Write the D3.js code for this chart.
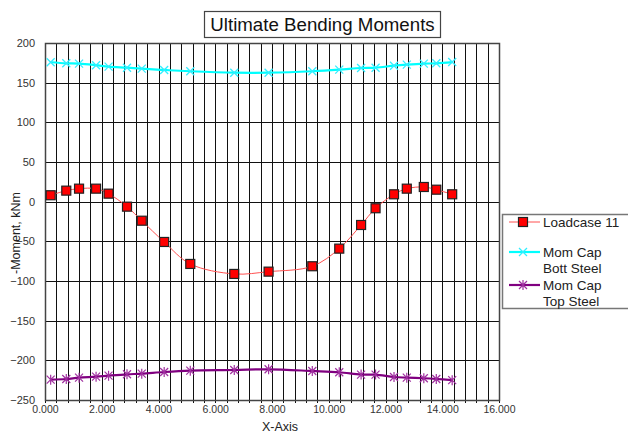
<!DOCTYPE html>
<html>
<head>
<meta charset="utf-8">
<script src="https://cdn.jsdelivr.net/npm/d3@7"></script>
<style>
  html, body { margin: 0; padding: 0; background: #fff; }
  svg { display: block; font-family: "Liberation Sans", Arial, sans-serif; }
</style>
</head>
<body>
<svg id="chart" width="628" height="435"></svg>
<script>
// ---- data ----
const xPositions = [0.20, 0.75, 1.20, 1.80, 2.24, 2.89, 3.41, 4.20, 5.12, 6.67, 7.88, 9.42, 10.37, 11.14, 11.65, 12.30, 12.75, 13.35, 13.79, 14.35];
const loadcase11 = [8.1, 13.9, 16.4, 16.4, 10.1, -6.3, -24.0, -50.8, -78.5, -91.1, -88.2, -81.4, -59.2, -29.4, -8.3, 9.3, 16.4, 18.5, 15.1, 9.3];
const momCapBott = [175.7, 174.4, 174.0, 172.0, 170.2, 168.9, 167.7, 166.0, 164.4, 162.6, 162.6, 164.4, 166.4, 168.5, 168.9, 171.4, 172.7, 174.0, 174.4, 176.0];
const momCapTop = [-224.4, -223.5, -221.8, -220.6, -219.3, -217.6, -216.8, -214.7, -213.0, -212.2, -211.3, -213.4, -215.0, -218.0, -218.0, -221.0, -221.8, -222.6, -223.5, -225.0];
const seriesNames = ["Loadcase 11", "Mom Cap\nBott Steel", "Mom Cap\nTop Steel"];
const xTickValues = [0, 2, 4, 6, 8, 10, 12, 14, 16];
const yTickValues = [200, 150, 100, 50, 0, -50, -100, -150, -200, -250];
const titleText = "Ultimate Bending Moments";
const xLabel = "X-Axis";
const yLabel = "-Moment, kNm";

// ---- layout ----
const svg = d3.select("#chart");
const plot = { left: 45, right: 499, top: 43, bottom: 400 };
const x = d3.scaleLinear().domain([0, 16]).range([plot.left, plot.right]);
const y = d3.scaleLinear().domain([-250, 200]).range([plot.bottom, plot.top]);

// gridlines (minor vertical every 0.4)
const xGrid = d3.range(0, 16.0001, 0.4);
const grid = svg.append("g");
grid.selectAll("line.vg").data(xGrid).join("line")
  .attr("x1", d => Math.round(x(d)) + 0.5).attr("x2", d => Math.round(x(d)) + 0.5)
  .attr("y1", plot.top).attr("y2", plot.bottom + 3)
  .attr("stroke", "#111").attr("stroke-width", 1);
grid.selectAll("line.hg").data(yTickValues).join("line")
  .attr("x1", plot.left).attr("x2", plot.right)
  .attr("y1", d => Math.round(y(d)) + 0.5).attr("y2", d => Math.round(y(d)) + 0.5)
  .attr("stroke", "#111").attr("stroke-width", 1);

// plot border
svg.append("rect")
  .attr("x", plot.left + 0.5).attr("y", plot.top + 0.5)
  .attr("width", plot.right - plot.left).attr("height", plot.bottom - plot.top)
  .attr("fill", "none").attr("stroke", "#444").attr("stroke-width", 1.5);

// axes (labels only, via d3 axes)
const xAxis = d3.axisBottom(x).tickValues(xTickValues).tickFormat(d3.format(".3f")).tickSize(0).tickPadding(6);
const gx = svg.append("g").attr("transform", `translate(0,${plot.bottom})`).call(xAxis);
gx.select(".domain").remove();
gx.selectAll("text").attr("font-size", 10.5).attr("fill", "#333").attr("font-family", "Liberation Sans, Arial, sans-serif");

const yAxis = d3.axisLeft(y).tickValues(yTickValues).tickFormat(d3.format("d")).tickSize(0).tickPadding(10);
const gy = svg.append("g").attr("transform", `translate(${plot.left},0)`).call(yAxis);
gy.select(".domain").remove();
gy.selectAll("text").attr("font-size", 11).attr("fill", "#333").attr("font-family", "Liberation Sans, Arial, sans-serif");

// axis titles
svg.append("text").attr("x", 280).attr("y", 431).attr("text-anchor", "middle")
  .attr("font-size", 12.5).attr("fill", "#222").text(xLabel);
svg.append("text").attr("transform", "translate(20,233) rotate(-90)").attr("text-anchor", "middle")
  .attr("font-size", 12.5).attr("fill", "#222").text(yLabel);

// title
const titleBox = svg.append("g");
titleBox.append("rect").attr("x", 204.5).attr("y", 11.5).attr("width", 236).attr("height", 26)
  .attr("fill", "#fff").attr("stroke", "#444").attr("stroke-width", 1.2);
titleBox.append("text").attr("x", 322.5).attr("y", 31).attr("text-anchor", "middle")
  .attr("font-size", 18.7).attr("fill", "#111").text(titleText);

// series
const curve = d3.curveCatmullRom.alpha(0.5);
const mkLine = vals => d3.line().curve(curve).x((d, i) => x(xPositions[i])).y(d => y(d))(vals);

const series = [
  { vals: loadcase11, color: "#ff5050", width: 1, marker: "square" },
  { vals: momCapBott, color: "#00ffff", width: 2.2, marker: "x" },
  { vals: momCapTop, color: "#800080", width: 2.2, marker: "star" }
];

function drawMarker(g, type, cx, cy) {
  if (type === "square") {
    g.append("rect").attr("x", cx - 4.5).attr("y", cy - 4.5).attr("width", 9).attr("height", 9)
      .attr("fill", "#ff0000").attr("stroke", "#222").attr("stroke-width", 1.2);
  } else if (type === "x") {
    const s = 4;
    g.append("path").attr("d", `M${cx - s},${cy - s}L${cx + s},${cy + s}M${cx - s},${cy + s}L${cx + s},${cy - s}`)
      .attr("stroke", "#33eeff").attr("stroke-width", 1.3).attr("fill", "none");
  } else {
    const s = 4;
    g.append("path").attr("d", `M${cx - s},${cy - s}L${cx + s},${cy + s}M${cx - s},${cy + s}L${cx + s},${cy - s}M${cx},${cy - s - 1}L${cx},${cy + s + 1}`)
      .attr("stroke", "#a030a0").attr("stroke-width", 1.2).attr("fill", "none");
  }
}

series.forEach(s => {
  const g = svg.append("g");
  g.append("path").attr("d", mkLine(s.vals)).attr("fill", "none")
    .attr("stroke", s.color).attr("stroke-width", s.width);
  s.vals.forEach((v, i) => drawMarker(g, s.marker, x(xPositions[i]), y(v)));
});

// legend
const leg = svg.append("g");
leg.append("rect").attr("x", 502.5).attr("y", 214.5).attr("width", 140).attr("height", 94)
  .attr("fill", "#fff").attr("stroke", "#777").attr("stroke-width", 1.5);
const legRows = [222, 252, 285];
series.forEach((s, i) => {
  const cy = legRows[i];
  leg.append("line").attr("x1", 509).attr("x2", 540).attr("y1", cy).attr("y2", cy)
    .attr("stroke", s.color).attr("stroke-width", s.width);
  drawMarker(leg, s.marker, 523, cy);
  const lines = seriesNames[i].split("\n");
  const t = leg.append("text").attr("font-size", 13.5).attr("fill", "#222");
  lines.forEach((ln, j) => {
    t.append("tspan").attr("x", 543).attr("y", cy + 5 + j * 16).text(ln);
  });
});
</script>
</body>
</html>
